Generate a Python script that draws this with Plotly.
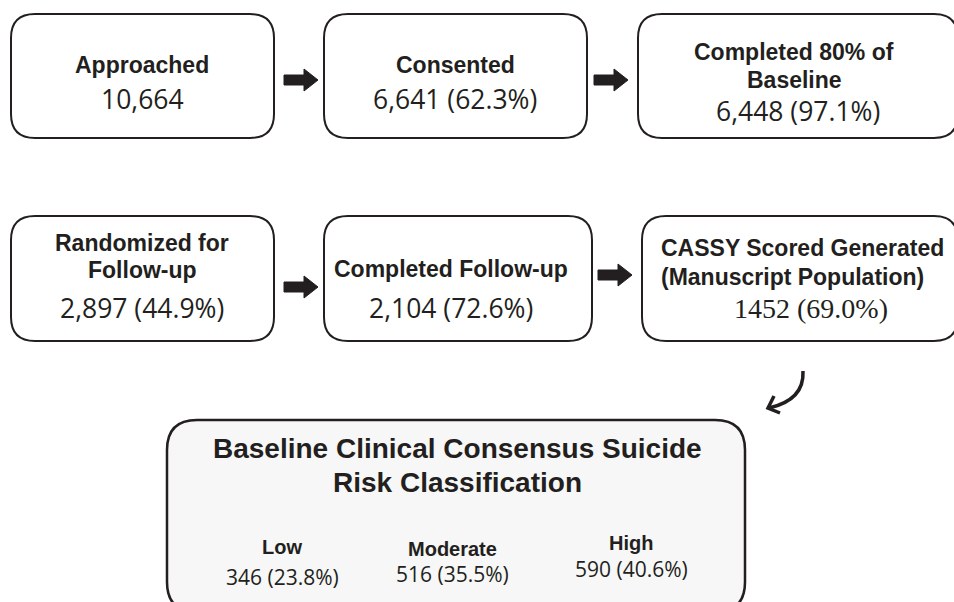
import plotly.graph_objects as go

# ---------------- data ----------------
stage_titles = [
    "Approached",
    "Consented",
    "Completed 80% of<br>Baseline",
    "Randomized for<br>Follow-up",
    "Completed Follow-up",
    "CASSY Scored Generated<br>(Manuscript Population)",
]
stage_counts = [10664, 6641, 6448, 2897, 2104, 1452]
stage_pcts = [None, 62.3, 97.1, 44.9, 72.6, 69.0]

risk_title = "Baseline Clinical Consensus Suicide<br>Risk Classification"
risk_labels = ["Low", "Moderate", "High"]
risk_counts = [346, 516, 590]
risk_pcts = [23.8, 35.5, 40.6]

# ---------------- layout config (pixel space) ----------------
W, H = 954, 602
INK = "#231f20"
BOLD = "Liberation Sans, Arial, sans-serif"
NUMF = "Open Sans, sans-serif"
SERIF = "Liberation Serif, Times New Roman, serif"

# box rectangles: x0, y0, x1, y1
boxes = [
    (11, 14, 274, 138),
    (324, 14, 587, 138),
    (638, 14, 958, 138),
    (11, 216, 274, 341),
    (324, 216, 592, 341),
    (642, 216, 958, 341),
]
# title line y positions, number y position, text x, alignment
title_ys = [[65], [65], [52, 80], [243, 270], [269], [248, 277]]
number_ys = [99, 99, 111, 308, 308, 308]
text_x = [142, 455, 794, 142, 451, 659]
number_x = [142, 455, 798, 142, 451, 811]
title_anchor = ["center", "center", "center", "center", "center", "left"]
number_font = [NUMF, NUMF, NUMF, NUMF, NUMF, SERIF]
number_size = [26.5, 26.5, 26.5, 26.5, 26.5, 28]
use_comma = [True, True, True, True, True, False]

# block arrows: x start, x end, y center
arrows = [(284, 318, 80), (594, 628, 80), (284, 318, 287), (598, 632, 275)]

big_box = (167, 420, 745, 612)
risk_title_ys = [448, 482]
risk_title_x = 457
risk_x = [282, 452, 631]
risk_label_y = [547, 549, 543]
risk_num_y = [577, 574, 569]


def rounded(x0, y0, x1, y1, r):
    return (f"M{x0+r},{y0} L{x1-r},{y0} Q{x1},{y0} {x1},{y0+r} "
            f"L{x1},{y1-r} Q{x1},{y1} {x1-r},{y1} L{x0+r},{y1} "
            f"Q{x0},{y1} {x0},{y1-r} L{x0},{y0+r} Q{x0},{y0} {x0+r},{y0} Z")


fig = go.Figure()
fig.add_trace(go.Scatter(x=[0, W], y=[0, H], mode="markers",
                         marker=dict(opacity=0), hoverinfo="skip", showlegend=False))

shapes = []
annotations = []

for i, (x0, y0, x1, y1) in enumerate(boxes):
    shapes.append(dict(type="path", path=rounded(x0, y0, x1, y1, 24),
                       xref="x", yref="y", line=dict(color=INK, width=2),
                       fillcolor="white", layer="below"))
    lines = stage_titles[i].split("<br>")
    for line, ly in zip(lines, title_ys[i]):
        annotations.append(dict(x=text_x[i], y=ly, xref="x", yref="y",
                                text=f"<b>{line}</b>", showarrow=False,
                                xanchor=title_anchor[i], yanchor="middle",
                                font=dict(family=BOLD, size=23, color=INK)))
    c = stage_counts[i]
    ctext = f"{c:,}" if use_comma[i] else f"{c}"
    if stage_pcts[i] is not None:
        ctext += f" ({stage_pcts[i]:.1f}%)"
    annotations.append(dict(x=number_x[i], y=number_ys[i], xref="x", yref="y",
                            text=ctext, showarrow=False, xanchor="center",
                            yanchor="middle",
                            font=dict(family=number_font[i], size=number_size[i], color=INK)))

for xs, xe, yc in arrows:
    xh = xe - 14
    p = (f"M{xs},{yc-5} L{xh},{yc-5} L{xh},{yc-11} L{xe},{yc} "
         f"L{xh},{yc+11} L{xh},{yc+5} L{xs},{yc+5} Z")
    shapes.append(dict(type="path", path=p, xref="x", yref="y",
                       line=dict(color=INK, width=1), fillcolor=INK))

# curved arrow
shapes.append(dict(type="path", path="M803,371 C804,391 791,403 769,408",
                   xref="x", yref="y", line=dict(color=INK, width=3.5)))
shapes.append(dict(type="path", path="M774,396 L768,408 L780,413",
                   xref="x", yref="y", line=dict(color=INK, width=3.5)))

# big box
bx0, by0, bx1, by1 = big_box
shapes.append(dict(type="path", path=rounded(bx0, by0, bx1, by1, 30),
                   xref="x", yref="y", line=dict(color=INK, width=2.5),
                   fillcolor="#f7f7f7", layer="below"))
for line, ly in zip(risk_title.split("<br>"), risk_title_ys):
    annotations.append(dict(x=risk_title_x, y=ly, xref="x", yref="y",
                            text=f"<b>{line}</b>", showarrow=False,
                            xanchor="center", yanchor="middle",
                            font=dict(family=BOLD, size=28, color=INK)))
for i, lab in enumerate(risk_labels):
    annotations.append(dict(x=risk_x[i], y=risk_label_y[i], xref="x", yref="y",
                            text=f"<b>{lab}</b>", showarrow=False,
                            xanchor="center", yanchor="middle",
                            font=dict(family=BOLD, size=20, color=INK)))
    annotations.append(dict(x=risk_x[i], y=risk_num_y[i], xref="x", yref="y",
                            text=f"{risk_counts[i]} ({risk_pcts[i]:.1f}%)",
                            showarrow=False, xanchor="center", yanchor="middle",
                            font=dict(family=NUMF, size=21, color=INK)))

fig.update_layout(
    width=W, height=H,
    margin=dict(l=0, r=0, t=0, b=0),
    paper_bgcolor="white", plot_bgcolor="white",
    xaxis=dict(range=[0, W], visible=False, fixedrange=True),
    yaxis=dict(range=[H, 0], visible=False, fixedrange=True),
    shapes=shapes, annotations=annotations,
    showlegend=False,
)

fig.write_html(
    "out.html",
    config={"displayModeBar": False},
    post_script="document.body.style.margin='0';document.body.style.overflow='hidden';",
)
